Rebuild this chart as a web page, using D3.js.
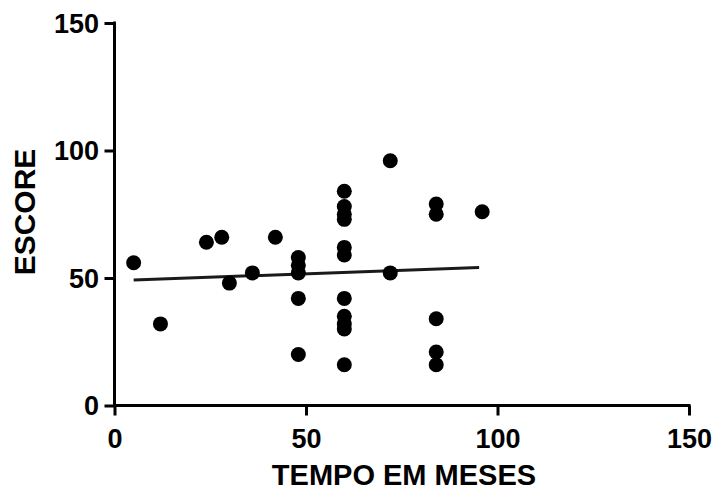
<!DOCTYPE html>
<html>
<head>
<meta charset="utf-8">
<script src="https://cdn.jsdelivr.net/npm/d3@7"></script>
<style>
  html, body { margin: 0; padding: 0; background: #fff; }
  svg text { font-family: "Liberation Sans", Arial, sans-serif; font-weight: bold; fill: #000; }
</style>
</head>
<body>
<svg id="chart" width="713" height="491"></svg>
<script>
// Months of follow-up (x) and score (y) for each subject
const tempo = [5, 12, 24, 28, 30, 36, 42,
               48, 48, 48, 48, 48,
               60, 60, 60, 60, 60, 60, 60, 60, 60, 60, 60,
               72, 72,
               84, 84, 84, 84, 84,
               96];
const escore = [56, 32, 64, 66, 48, 52, 66,
                58, 55, 52, 42, 20,
                84, 78, 75, 73, 62, 59, 42, 35, 32, 30, 16,
                96, 52,
                79, 75, 34, 21, 16,
                76];

// Linear regression line (start/end of the fitted segment)
const fitX = [5, 95.2];
const fitY = [49.2, 54.1];

// Axis ticks
const xTicks = [0, 50, 100, 150];
const yTicks = [0, 50, 100, 150];

const svg = d3.select("#chart");

const x = d3.scaleLinear().domain([0, 150]).range([114.5, 689]);
const y = d3.scaleLinear().domain([0, 150]).range([405.5, 23]);

// X axis
const xAxis = svg.append("g")
  .attr("transform", `translate(0,${y(0)})`)
  .call(d3.axisBottom(x).tickValues(xTicks).tickFormat(d3.format("d"))
        .tickSizeInner(10).tickSizeOuter(0).tickPadding(6));
xAxis.select(".domain").attr("stroke", "#000").attr("stroke-width", 3)
  .attr("d", `M${x(0)},0H${x(150) + 1.5}`);
xAxis.selectAll(".tick line").attr("stroke", "#000").attr("stroke-width", 3);
xAxis.selectAll(".tick text").attr("font-size", 27).attr("dy", null).attr("y", 42.5);

// Y axis
const yAxis = svg.append("g")
  .attr("transform", `translate(${x(0)},0)`)
  .call(d3.axisLeft(y).tickValues(yTicks).tickFormat(d3.format("d"))
        .tickSizeInner(10).tickSizeOuter(0).tickPadding(5));
yAxis.select(".domain").attr("stroke", "#000").attr("stroke-width", 3)
  .attr("d", `M0,${y(150) - 1.5}V${y(0)}`);
yAxis.selectAll(".tick line").attr("stroke", "#000").attr("stroke-width", 3);
yAxis.selectAll(".tick text").attr("font-size", 27).attr("dy", "0.35em").attr("x", -15.5);

// Fitted line
svg.append("line")
  .attr("x1", x(fitX[0])).attr("y1", y(fitY[0]))
  .attr("x2", x(fitX[1])).attr("y2", y(fitY[1]))
  .attr("stroke", "#1a1a1a").attr("stroke-width", 3);

// Data points
svg.append("g").selectAll("circle")
  .data(tempo.map((t, i) => ({ t, s: escore[i] })))
  .join("circle")
  .attr("cx", d => x(d.t))
  .attr("cy", d => y(d.s))
  .attr("r", 7.5)
  .attr("fill", "#000");

// Axis titles
svg.append("text")
  .attr("x", 404).attr("y", 485)
  .attr("text-anchor", "middle")
  .attr("font-size", 29)
  .text("TEMPO EM MESES");

svg.append("text")
  .attr("transform", "translate(35,212) rotate(-90)")
  .attr("text-anchor", "middle")
  .attr("font-size", 30)
  .text("ESCORE");
</script>
</body>
</html>
